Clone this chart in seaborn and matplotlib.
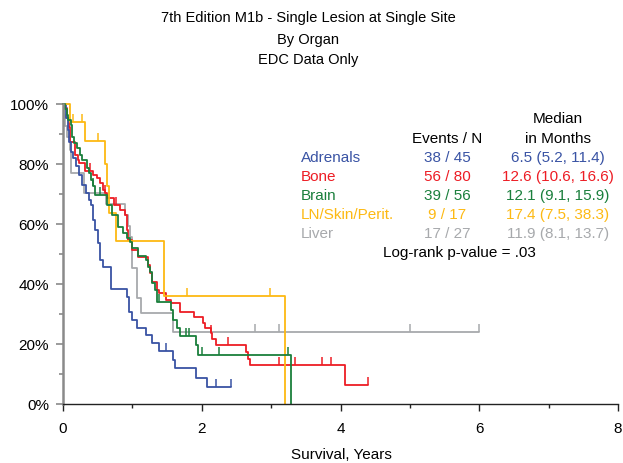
import numpy as np
import pandas as pd
import matplotlib
matplotlib.use("Agg")
import matplotlib.pyplot as plt
import seaborn as sns
from matplotlib.ticker import MultipleLocator, FuncFormatter

# ---------------- data ----------------
groups = ["Adrenals", "Bone", "Brain", "LN/Skin/Perit.", "Liver"]
colors = ["#3953a4", "#ed1c24", "#1a7f3c", "#fdb913", "#a7a9ac"]
events = [38, 56, 39, 9, 17]
n_total = [45, 80, 56, 17, 27]
median_months = [6.5, 12.6, 12.1, 17.4, 11.9]
ci_low = [5.2, 10.6, 9.1, 7.5, 8.1]
ci_high = [11.4, 16.6, 15.9, 38.3, 13.7]
logrank_p = ".03"

title_lines = ["7th Edition M1b - Single Lesion at Single Site", "By Organ", "EDC Data Only"]
x_label = "Survival, Years"
x_ticks = [0, 2, 4, 6, 8]
y_ticks = [0, 20, 40, 60, 80, 100]

# Kaplan-Meier step curves: times (years), survival (%)
adrenals_t = [0, .04, .07, .09, .11, .14, .19, .23, .27, .33, .37, .40, .43, .46, .50, .53, .54, .57,
              .69, .92, .95, .99, 1.06, 1.20, 1.28, 1.38, 1.58, 1.61, 1.91, 2.07]
adrenals_s = [100, 95.3, 91.3, 87.3, 84.0, 82.0, 79.3, 76.3, 73.0, 70.3, 68.0, 66.3, 61.3, 58.0, 53.7,
              51.3, 48.0, 45.7, 38.3, 35.7, 30.7, 28.0, 25.3, 23.0, 20.3, 17.7, 14.7, 12.0, 8.7, 5.7]
adrenals_end = 2.42
adrenals_cens = [1.49, 2.21, 2.42]

bone_t = [0, .03, .06, .09, .10, .17, .22, .23, .32, .43, .49, .53, .57, .60, .63, .73, .82, .89, .92,
          .93, 1.00, 1.08, 1.22, 1.26, 1.29, 1.35, 1.39, 1.49, 1.56, 1.68, 1.89, 2.02, 2.05, 2.14, 2.15,
          2.21, 2.64, 2.67, 2.70, 4.06]
bone_s = [100, 98.7, 95.3, 92.3, 87.3, 83.0, 81.3, 80.3, 77.7, 76.3, 75.3, 73.7, 71.3, 70.3, 68.7, 66.3,
          64.7, 63.0, 58.0, 54.7, 51.3, 49.0, 46.3, 43.7, 40.7, 38.0, 37.0, 34.7, 33.7, 30.7, 29.0, 27.0,
          25.3, 23.7, 21.7, 19.7, 17.3, 15.0, 13.0, 6.3]
bone_end = 4.39
bone_cens = [.39, .60, .76, 2.14, 2.38, 3.11, 3.35, 3.74, 3.86, 4.39]

brain_t = [0, .03, .06, .07, .11, .13, .16, .20, .24, .27, .34, .37, .40, .43, .46, .63, .70, .79, .86,
           .92, .96, 1.00, 1.08, 1.20, 1.22, 1.25, 1.28, 1.29, 1.32, 1.35, 1.56, 1.59, 1.65, 1.68, 1.92,
           1.95, 3.28]
brain_s = [100, 98.2, 96.3, 94.7, 93.0, 89.0, 87.0, 85.3, 83.0, 81.3, 78.7, 77.0, 74.7, 72.7, 69.7, 66.3,
           63.0, 59.0, 57.0, 55.3, 54.0, 52.0, 49.5, 48.0, 45.7, 44.0, 42.0, 40.3, 38.0, 34.0, 31.3, 28.0,
           25.3, 22.7, 19.7, 16.3, 0]
brain_end = 3.28
brain_cens = [.43, .53, 1.38, 1.78, 1.82, 2.01, 2.25, 3.24]

ln_t = [0, .10, .32, .60, .63, .66, .77, 1.45, 3.20]
ln_s = [100, 94.1, 87.7, 80.0, 72.7, 63.7, 54.3, 36.0, 0]
ln_end = 3.20
ln_cens = [.14, .27, .50, 1.79, 2.98]

liver_t = [0, .01, .03, .06, .10, .11, .30, .62, .89, .93, .96, .99, 1.06, 1.13, 1.59]
liver_s = [100, 96.3, 92.7, 89.0, 84.7, 77.0, 70.3, 66.7, 63.0, 59.3, 55.7, 45.3, 35.3, 30.3, 24.0]
liver_end = 6.0
liver_cens = [2.77, 3.11, 5.0, 6.0]

curves = {
    "Adrenals": (adrenals_t, adrenals_s, adrenals_end, adrenals_cens),
    "Bone": (bone_t, bone_s, bone_end, bone_cens),
    "Brain": (brain_t, brain_s, brain_end, brain_cens),
    "LN/Skin/Perit.": (ln_t, ln_s, ln_end, ln_cens),
    "Liver": (liver_t, liver_s, liver_end, liver_cens),
}

# ---------------- figure ----------------
sns.set_theme(style="ticks")
plt.rcParams['font.family'] = ['Liberation Sans', 'DejaVu Sans']

W, H = 623, 463
fig = plt.figure(figsize=(W / 100, H / 100), dpi=100)
ax = fig.add_axes([63 / W, 59 / H, 555 / W, 300 / H])

draw_order = ["Liver", "Bone", "Adrenals", "LN/Skin/Perit.", "Brain"]
for g in draw_order:
    c = colors[groups.index(g)]
    t, s, end, cens = curves[g]
    tt = list(t)
    ss = list(s)
    if end > tt[-1]:
        tt.append(end)
        ss.append(ss[-1])
    df = pd.DataFrame({"t": tt, "s": ss})
    sns.lineplot(data=df, x="t", y="s", drawstyle="steps-post", color=c, lw=1.3,
                 estimator=None, sort=False, ax=ax, clip_on=False)
    ta = np.array(t)
    sa = np.array(s)
    cy = [sa[np.searchsorted(ta, ct, side="right") - 1] for ct in cens]
    sns.lineplot(x=cens, y=cy, linestyle="", marker=2, markersize=5.5, markeredgewidth=1.1,
                 markeredgecolor=c, color=c, estimator=None, sort=False, ax=ax, clip_on=False)

ax.set_xlim(0, 8)
ax.set_ylim(0, 100)
ax.set_xticks(x_ticks)
ax.set_yticks(y_ticks)
ax.xaxis.set_minor_locator(MultipleLocator(1))
ax.yaxis.set_minor_locator(MultipleLocator(10))
ax.yaxis.set_major_formatter(FuncFormatter(lambda v, p: f"{int(v)}%"))
ax.set_xlabel("")
ax.set_ylabel("")
sns.despine(ax=ax)
ax.spines["left"].set_color("#8a8a8a")
ax.spines["left"].set_linewidth(1.8)
ax.spines["bottom"].set_color("#222222")
ax.spines["bottom"].set_linewidth(1.0)
ax.tick_params(axis="y", which="major", length=5, width=1.2, color="#8a8a8a", pad=5,
               labelsize=11, labelcolor="black")
ax.tick_params(axis="y", which="minor", length=3, width=1.2, color="#8a8a8a")
ax.tick_params(axis="x", which="major", length=5, width=1.0, color="#222222", pad=8,
               labelsize=11, labelcolor="black")
ax.tick_params(axis="x", which="minor", length=3, width=1.0, color="#222222")

def ftext(x, y, s, size=11, **kw):
    fig.text(x / W, 1 - y / H, s, va="center", fontsize=size, **kw)

for i, line in enumerate(title_lines):
    ftext(308, [18, 40, 60][i], line, size=10.5, ha="center", color="black")
ftext(341, 455, x_label, ha="center", color="black")

# legend table
ftext(558, 119, "Median", ha="center", color="black")
ftext(558, 139, "in Months", ha="center", color="black")
ftext(447.5, 139, "Events / N", ha="center", color="black")
row_y = [158, 177, 196, 215, 234]
for i, g in enumerate(groups):
    ftext(301, row_y[i], g, ha="left", color=colors[i])
    ftext(447.5, row_y[i], f"{events[i]} / {n_total[i]}", ha="center", color=colors[i])
    ftext(558, row_y[i], f"{median_months[i]} ({ci_low[i]}, {ci_high[i]})", ha="center", color=colors[i])
ftext(459.5, 253, f"Log-rank p-value = {logrank_p}", ha="center", color="black")

fig.savefig("out.png", dpi=100)
